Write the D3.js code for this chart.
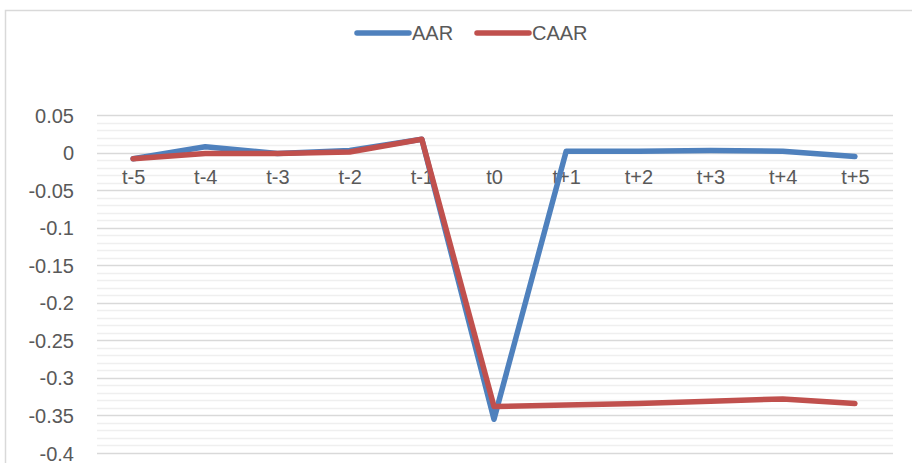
<!DOCTYPE html>
<html><head><meta charset="utf-8">
<script src="https://cdn.jsdelivr.net/npm/d3@7"></script>
<style>body{margin:0;background:#fff}svg{display:block}text{font-family:"Liberation Sans",Arial,sans-serif}</style>
</head><body>
<svg id="c" width="912" height="463"></svg>
<script>
const categories = ["t-5","t-4","t-3","t-2","t-1","t0","t+1","t+2","t+3","t+4","t+5"];
const aar  = [-0.008, 0.008, -0.001, 0.003, 0.018, -0.355, 0.002, 0.002, 0.003, 0.002, -0.005];
const caar = [-0.008, -0.001, -0.001, 0.001, 0.018, -0.338, -0.336, -0.334, -0.331, -0.328, -0.334];
const yTicks = [0.05, 0, -0.05, -0.1, -0.15, -0.2, -0.25, -0.3, -0.35, -0.4];
const seriesNames = ["AAR", "CAAR"];
const colors = ["#4f81bd", "#c0504d"];

const svg = d3.select("#c");
svg.append("rect").attr("x",5.5).attr("y",10.5).attr("width",920).attr("height",470)
  .attr("fill","#fff").attr("stroke","#d9d9d9").attr("stroke-width",1.5);

const x = d3.scalePoint().domain(categories).range([97, 891]).padding(0.5);
const y = d3.scaleLinear().domain([-0.4, 0.05]).range([453, 115.2]);

// minor gridlines
const minor = d3.range(-40, 6).map(v => v / 100).filter(v => Math.round(v*100) % 5 !== 0);
svg.append("g").selectAll("line").data(minor).join("line")
  .attr("x1",97).attr("x2",893).attr("y1",d=>Math.round(y(d))+0.5).attr("y2",d=>Math.round(y(d))+0.5)
  .attr("stroke","#efefef").attr("stroke-width",1.5);
// major gridlines via axis
const yAxis = d3.axisLeft(y).tickValues(yTicks).tickSize(0).tickPadding(23).tickFormat(d => d === 0 ? "0" : String(+d.toFixed(2)));
const gy = svg.append("g").attr("transform","translate(97,0)").call(yAxis);
gy.select(".domain").remove();
gy.selectAll("text").attr("fill","#595959").style("font-size","20px").attr("dy","0.35em");
svg.append("g").selectAll("line").data(yTicks).join("line")
  .attr("x1",97).attr("x2",893).attr("y1",d=>Math.round(y(d))+0.5).attr("y2",d=>Math.round(y(d))+0.5)
  .attr("stroke","#d9d9d9").attr("stroke-width",1.5);

// category axis at y=0
const xAxis = d3.axisBottom(x).tickSize(0).tickPadding(24);
const gx = svg.append("g").attr("transform",`translate(0,${y(0)})`).call(xAxis);
gx.select(".domain").remove();
gx.selectAll("text").attr("fill","#595959").style("font-size","20px").attr("dy","0.35em");

const line = d3.line().x((d,i)=>x(categories[i])).y(d=>y(d));
[aar, caar].forEach((s, k) => {
  svg.append("path").datum(s).attr("d", line).attr("fill","none")
    .attr("stroke", colors[k]).attr("stroke-width",5.5)
    .attr("stroke-linejoin","round").attr("stroke-linecap","round");
});

// legend
const lg = svg.append("g");
const lx = [355, 475];
seriesNames.forEach((n, k) => {
  lg.append("line").attr("x1",lx[k]+2).attr("x2",lx[k]+54).attr("y1",33).attr("y2",33)
    .attr("stroke",colors[k]).attr("stroke-width",5.5).attr("stroke-linecap","round");
  lg.append("text").attr("x",lx[k]+57).attr("y",33).attr("dy","0.35em")
    .attr("fill","#595959").style("font-size","20px").text(n);
});
</script>
</body></html>
